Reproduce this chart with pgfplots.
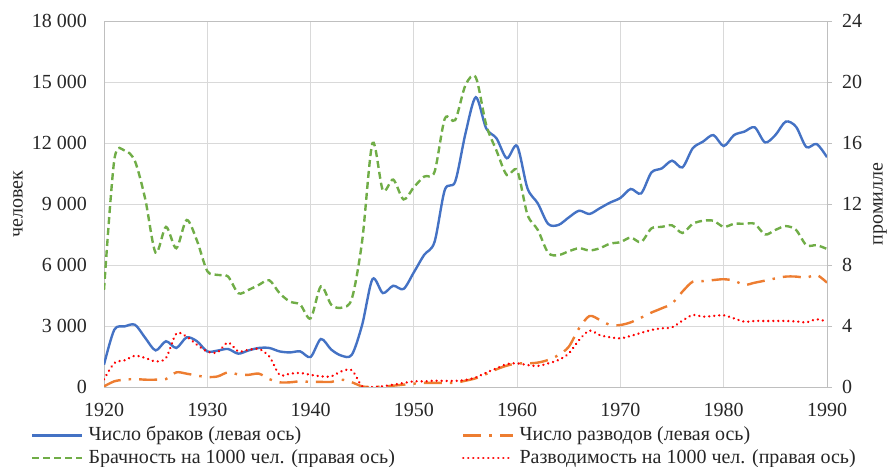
\documentclass[border=0pt]{standalone}
\usepackage{fontspec}
\setmainfont{Liberation Serif}
\usepackage{pgfplots}
\usepackage{pgfplotstable}
\pgfplotsset{compat=1.18}
\definecolor{cblue}{HTML}{4472C4}
\definecolor{corange}{HTML}{ED7D31}
\definecolor{cgreen}{HTML}{70AD47}
\definecolor{cred}{HTML}{FF0000}
\definecolor{cgrid}{HTML}{D9D9D9}
\definecolor{caxis}{HTML}{BFBFBF}
\definecolor{ctext}{HTML}{262626}

\pgfplotstableread{
year val
1920 1100
1921 2820
1922 2980
1923 3060
1924 2410
1925 1800
1926 2250
1927 1920
1928 2440
1929 2250
1930 1750
1931 1790
1932 1870
1933 1640
1934 1800
1935 1920
1936 1920
1937 1750
1938 1700
1939 1750
1940 1475
1941 2360
1942 1840
1943 1540
1944 1590
1945 3070
1946 5310
1947 4620
1948 4980
1949 4820
1950 5640
1951 6500
1952 7130
1953 9700
1954 10100
1955 12475
1956 14250
1957 12720
1958 12230
1959 11250
1960 11850
1961 9770
1962 9030
1963 8020
1964 7970
1965 8340
1966 8670
1967 8510
1968 8790
1969 9070
1970 9300
1971 9740
1972 9520
1973 10550
1974 10750
1975 11130
1976 10800
1977 11740
1978 12070
1979 12390
1980 11850
1981 12390
1982 12560
1983 12770
1984 12030
1985 12390
1986 13050
1987 12800
1988 11800
1989 11950
1990 11300
}\marriages

\pgfplotstableread{
year val
1920 30
1921 280
1922 360
1923 390
1924 360
1925 360
1926 390
1927 720
1928 655
1929 560
1930 490
1931 520
1932 720
1933 620
1934 600
1935 655
1936 390
1937 230
1938 230
1939 280
1940 250
1941 250
1942 250
1943 360
1944 230
1945 30
1946 0
1947 30
1948 65
1949 115
1950 165
1951 200
1952 200
1953 200
1954 210
1955 310
1956 430
1957 640
1958 870
1959 1050
1960 1160
1961 1160
1962 1200
1963 1330
1964 1570
1965 1980
1966 2890
1967 3490
1968 3300
1969 3050
1970 3050
1971 3180
1972 3410
1973 3660
1974 3870
1975 4110
1976 4690
1977 5180
1978 5210
1979 5260
1980 5300
1981 5230
1982 5020
1983 5130
1984 5230
1985 5340
1986 5430
1987 5430
1988 5380
1989 5510
1990 5130
}\divorces

\pgfplotstableread{
year val
1920 6.37
1921 14.9
1922 15.5
1923 14.8
1924 12.3
1925 8.8
1926 10.5
1927 9.1
1928 10.95
1929 9.6
1930 7.6
1931 7.35
1932 7.25
1933 6.15
1934 6.37
1935 6.7
1936 7.0
1937 6.15
1938 5.6
1939 5.4
1940 4.5
1941 6.6
1942 5.4
1943 5.2
1944 5.8
1945 9.6
1946 16.0
1947 12.9
1948 13.6
1949 12.3
1950 13.1
1951 13.8
1952 14.1
1953 17.6
1954 17.5
1955 19.8
1956 20.3
1957 17.2
1958 15.5
1959 13.9
1960 14.2
1961 11.3
1962 10.3
1963 8.8
1964 8.65
1965 8.9
1966 9.1
1967 8.95
1968 9.1
1969 9.4
1970 9.5
1971 9.8
1972 9.5
1973 10.4
1974 10.5
1975 10.6
1976 10.1
1977 10.7
1978 10.9
1979 10.9
1980 10.5
1981 10.7
1982 10.7
1983 10.7
1984 10.0
1985 10.3
1986 10.55
1987 10.3
1988 9.3
1989 9.3
1990 9.05
}\marrate

\pgfplotstableread{
year val
1920 0.5
1921 1.57
1922 1.75
1923 2.05
1924 1.9
1925 1.68
1926 1.9
1927 3.5
1928 3.3
1929 2.77
1930 2.33
1931 2.27
1932 2.92
1933 2.33
1934 2.44
1935 2.49
1936 2.0
1937 0.8
1938 0.87
1939 0.92
1940 0.8
1941 0.7
1942 0.7
1943 1.03
1944 1.1
1945 0.04
1946 0
1947 0.05
1948 0.15
1949 0.26
1950 0.37
1951 0.37
1952 0.41
1953 0.4
1954 0.4
1955 0.46
1956 0.63
1957 0.94
1958 1.22
1959 1.5
1960 1.55
1961 1.44
1962 1.38
1963 1.55
1964 1.77
1965 2.2
1966 3.08
1967 3.7
1968 3.4
1969 3.26
1970 3.19
1971 3.35
1972 3.55
1973 3.74
1974 3.85
1975 3.91
1976 4.35
1977 4.72
1978 4.61
1979 4.66
1980 4.70
1981 4.5
1982 4.28
1983 4.33
1984 4.33
1985 4.33
1986 4.33
1987 4.3
1988 4.24
1989 4.44
1990 4.28
}\divrate

\tikzset{
  sblue/.style={cblue, line width=2.4bp, solid},
  sorange/.style={corange, line width=2.4bp, dash pattern=on 18bp off 8bp on 2.5bp off 8bp},
  sgreen/.style={cgreen, line width=2.4bp, dash pattern=on 7bp off 4bp},
  sred/.style={cred, line width=2.6bp, line cap=round, dash pattern=on 0.01bp off 5bp},
}

\begin{document}
\begin{tikzpicture}
\useasboundingbox (0,0) rectangle (888bp,467bp);
\begin{axis}[
  at={(104bp,80bp)}, anchor=south west,
  scale only axis, width=723bp, height=366bp,
  xmin=1920, xmax=1990, ymin=0, ymax=18000,
  scaled ticks=false,
  xtick={1920,1930,...,1990},
  xticklabels={1920,1930,1940,1950,1960,1970,1980,1990},
  ytick={0,3000,6000,9000,12000,15000,18000},
  yticklabels={0,3 000,6 000,9 000,12 000,15 000,18 000},
  grid=major, grid style={cgrid, line width=0.9bp},
  axis line style={caxis, line width=0.9bp},
  major tick length=0pt,
  tick style={draw=none},
  font=\fontsize{20bp}{24bp}\selectfont,
  ticklabel style={text=ctext},
  xticklabel style={anchor=north, inner sep=0pt, yshift=-16bp},
  yticklabel style={anchor=east, inner sep=0pt, xshift=-17bp},
  ylabel={человек},
  ylabel style={at={(axis description cs:-0.119,0.5)}, anchor=center, text=ctext, inner sep=0pt},
  legend columns=2,
  legend cell align=left,
  legend image code/.code={\draw[#1] (0bp,0bp) -- (50bp,0bp);},
  legend style={at={(axis description cs:-0.101,-0.105)}, anchor=north west,
    draw=none, fill=none, inner sep=0pt, row sep=2.5bp,
    font=\fontsize{20bp}{24bp}\selectfont,
    nodes={inner xsep=5bp, inner ysep=1bp, text height=14bp, text depth=4bp, text=ctext},
    /tikz/column 2/.style={column sep=62bp}},
]
\addplot[sblue, smooth] table[x=year, y=val] {\marriages};
\addlegendentry{Число браков (левая ось)}
\addplot[sorange, smooth] table[x=year, y=val] {\divorces};
\addlegendentry{Число разводов (левая ось)}
\addlegendimage{sgreen}
\addlegendentry{Брачность на 1000 чел. (правая ось)}
\addlegendimage{sred}
\addlegendentry{Разводимость на 1000 чел. (правая ось)}
\end{axis}
\begin{axis}[
  at={(104bp,80bp)}, anchor=south west,
  scale only axis, width=723bp, height=366bp,
  xmin=1920, xmax=1990, ymin=0, ymax=24,
  scaled ticks=false,
  axis x line=none, axis y line*=right,
  ytick={0,4,8,12,16,20,24},
  yticklabels={0,4,8,12,16,20,24},
  axis line style={caxis, line width=0.9bp},
  tick align=outside, ytick pos=right,
  major tick length=5bp,
  tick style={caxis, line width=0.9bp},
  font=\fontsize{20bp}{24bp}\selectfont,
  ticklabel style={text=ctext},
  yticklabel style={anchor=west, inner sep=0pt, xshift=10bp},
  ylabel={промилле},
  ylabel style={at={(axis description cs:1.0733,0.5)}, anchor=center, text=ctext, inner sep=0pt},
]
\addplot[sgreen, smooth] table[x=year, y=val] {\marrate};
\addplot[sred, smooth] table[x=year, y=val] {\divrate};
\end{axis}
\end{tikzpicture}
\end{document}
